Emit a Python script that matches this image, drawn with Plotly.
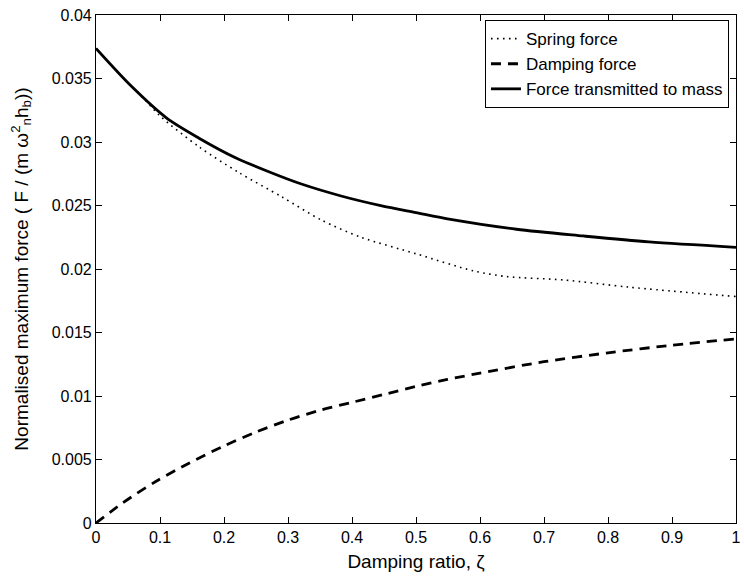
import plotly.graph_objects as go

# Data
zeta_trans = [0.0, 0.053, 0.11, 0.161, 0.218, 0.27, 0.321, 0.383, 0.445, 0.5, 0.554, 0.657, 0.761, 0.864, 1.0]
force_trans = [0.03736, 0.0345, 0.0319, 0.0303, 0.02876, 0.02766, 0.02669, 0.02575, 0.02499, 0.02444, 0.02391, 0.02313, 0.0226, 0.02213, 0.02171]

zeta_spring = [0.0, 0.053, 0.068, 0.099, 0.161, 0.223, 0.29, 0.352, 0.414, 0.5, 0.59, 0.642, 0.73, 0.833, 1.0]
force_spring = [0.03736, 0.0345, 0.0338, 0.0321, 0.02962, 0.0276, 0.02569, 0.02386, 0.0225, 0.0212, 0.01985, 0.0194, 0.01914, 0.01857, 0.01783]

zeta_damp = [0.0, 0.042, 0.094, 0.146, 0.197, 0.249, 0.3, 0.352, 0.404, 0.456, 0.5, 0.549, 0.6, 0.7, 0.8, 0.9, 1.0]
force_damp = [0.0, 0.00159, 0.00329, 0.00473, 0.0060, 0.00714, 0.0081, 0.0089, 0.00955, 0.0102, 0.01075, 0.0113, 0.0118, 0.0127, 0.0134, 0.0140, 0.0145]

x_ticks = [0, 0.1, 0.2, 0.3, 0.4, 0.5, 0.6, 0.7, 0.8, 0.9, 1]
x_tick_labels = ["0", "0.1", "0.2", "0.3", "0.4", "0.5", "0.6", "0.7", "0.8", "0.9", "1"]
y_ticks = [0, 0.005, 0.01, 0.015, 0.02, 0.025, 0.03, 0.035, 0.04]
y_tick_labels = ["0", "0.005", "0.01", "0.015", "0.02", "0.025", "0.03", "0.035", "0.04"]

font_family = "Liberation Sans, Arial, sans-serif"

fig = go.Figure()
fig.add_trace(go.Scatter(x=zeta_spring, y=force_spring, mode="lines", name="Spring force",
                         line=dict(color="black", width=1.6, dash="1.6px,4.4px", shape="spline", smoothing=0.8)))
fig.add_trace(go.Scatter(x=zeta_damp, y=force_damp, mode="lines", name="Damping force",
                         line=dict(color="black", width=2.8, dash="10px,7px", shape="spline", smoothing=0.8)))
fig.add_trace(go.Scatter(x=zeta_trans, y=force_trans, mode="lines", name="Force transmitted to mass",
                         line=dict(color="black", width=2.8, shape="spline", smoothing=0.8)))

axis_common = dict(showgrid=False, zeroline=False, showline=True, linecolor="black", linewidth=1.2,
                   mirror="ticks", ticks="inside", ticklen=6, tickcolor="black",
                   ticklabeloverflow="allow",
                   tickfont=dict(family=font_family, size=16, color="black"))

fig.update_xaxes(range=[0, 1], tickvals=x_ticks, ticktext=x_tick_labels,
                 title=dict(text="Damping ratio, ζ", font=dict(family=font_family, size=19, color="black"), standoff=9),
                 **axis_common)
fig.update_yaxes(range=[0, 0.04], tickvals=y_ticks, ticktext=y_tick_labels,
                 title=dict(text="Normalised maximum force ( F / (m ω<sup>2</sup><sub>n</sub>h<sub>b</sub>))",
                            font=dict(family=font_family, size=19, color="black"), standoff=18),
                 **axis_common)

fig.update_layout(
    width=744, height=579,
    margin=dict(l=96, r=3, t=15, b=56),
    plot_bgcolor="white", paper_bgcolor="white",
    font=dict(family=font_family, size=16, color="black"),
    legend=dict(x=0.989, y=0.99, xanchor="right", yanchor="top",
                bordercolor="black", borderwidth=1, bgcolor="white",
                font=dict(family=font_family, size=17, color="black"),
                tracegroupgap=0, itemwidth=30),
    showlegend=True,
)

fig.write_html("out.html")
